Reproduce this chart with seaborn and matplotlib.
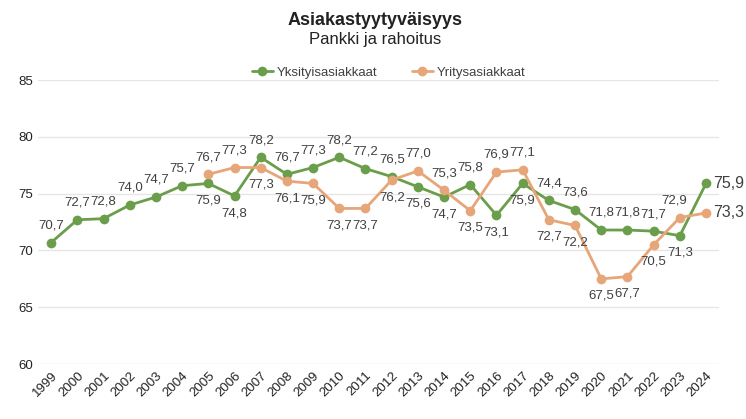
import numpy as np
import pandas as pd
import matplotlib
matplotlib.use("Agg")
import matplotlib.pyplot as plt
import seaborn as sns

years = list(range(1999, 2025))
yksityis = [70.7, 72.7, 72.8, 74.0, 74.7, 75.7, 75.9, 74.8, 78.2, 76.7, 77.3, 78.2, 77.2,
            76.5, 75.6, 74.7, 75.8, 73.1, 75.9, 74.4, 73.6, 71.8, 71.8, 71.7, 71.3, 75.9]
yritys = [None, None, None, None, None, None, 76.7, 77.3, 77.3, 76.1, 75.9, 73.7, 73.7,
          76.2, 77.0, 75.3, 73.5, 76.9, 77.1, 72.7, 72.2, 67.5, 67.7, 70.5, 72.9, 73.3]
series_names = ["Yksityisasiakkaat", "Yritysasiakkaat"]

# label placement: 'a' above, 'b' below, 'r' right
pos_g = list("aaaaaabbaaaaaabbabbaaaaabr")
pos_o = list("aaaaaaaabbbbbbaabaabbbbbar")

df = pd.DataFrame({
    "Vuosi": years * 2,
    "Arvo": yksityis + yritys,
    "Sarja": [series_names[0]] * len(years) + [series_names[1]] * len(years),
}).dropna()

sns.set_style("white")
plt.rcParams["font.family"] = ["Liberation Sans", "DejaVu Sans"]

green = "#6b9e4b"
orange = "#e6a67a"
txt = "#404040"

fig = plt.figure(figsize=(7.46, 4.19), dpi=100)
ax = fig.add_axes([0.051, 0.131, 0.913, 0.678])

sns.lineplot(data=df, x="Vuosi", y="Arvo", hue="Sarja", hue_order=series_names,
             palette=[green, orange], marker="o", markersize=7, markeredgewidth=0,
             linewidth=2, ax=ax, legend=True)

ax.set_xlim(1998.5, 2024.5)
ax.set_ylim(60, 85)
ax.set_yticks([60, 65, 70, 75, 80, 85])
ax.set_xticks(years)
ax.set_xticklabels([str(y) for y in years], rotation=45, ha="right", rotation_mode="anchor")
ax.tick_params(axis="both", length=0, labelsize=9.5, colors="#222222")
ax.tick_params(axis="x", pad=4)
ax.set_xlabel("")
ax.set_ylabel("")
ax.grid(axis="y", color="#e6e6e6", linewidth=1)
ax.set_axisbelow(True)
for s in ax.spines.values():
    s.set_visible(False)

def fmt(v):
    return f"{v:.1f}".replace(".", ",")

def label(x, v, p, dx=0):
    if v is None:
        return
    if p == "a":
        ax.annotate(fmt(v), (x, v), xytext=(dx, 8), textcoords="offset points",
                    ha="center", va="bottom", fontsize=9.5, color=txt)
    elif p == "b":
        ax.annotate(fmt(v), (x, v), xytext=(dx, -8), textcoords="offset points",
                    ha="center", va="top", fontsize=9.5, color=txt)
    else:
        ax.annotate(fmt(v), (x, v), xytext=(5, 0), textcoords="offset points",
                    ha="left", va="center", fontsize=11.5, color=txt)

for x, v, p in zip(years, yksityis, pos_g):
    label(x, v, p)
for x, v, p in zip(years, yritys, pos_o):
    label(x, v, p, dx=(-4 if x == 2023 else 0))

leg = ax.legend(loc="lower center", bbox_to_anchor=(0.515, 0.985), ncol=2, frameon=False,
                fontsize=9.5, handlelength=1.6, handletextpad=0.3, columnspacing=2.6,
                borderaxespad=0.0)
for t in leg.get_texts():
    t.set_color(txt)

fig.text(0.503, 0.952, "Asiakastyytyväisyys", ha="center", va="center",
         fontsize=13, fontweight="bold", color="#222222")
fig.text(0.503, 0.905, "Pankki ja rahoitus", ha="center", va="center",
         fontsize=12, color="#222222")

fig.savefig("out.png", dpi=100)
